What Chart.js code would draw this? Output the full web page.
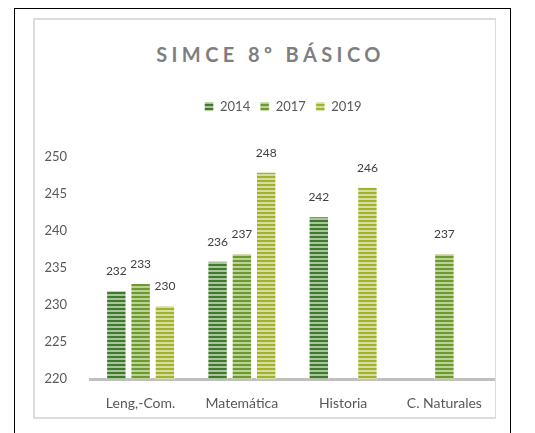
<!DOCTYPE html>
<html>
<head>
<meta charset="utf-8">
<script src="https://cdn.jsdelivr.net/npm/chart.js@4"></script>
<style>
  body { margin: 0; background: #fff; font-family: Lato, "Open Sans", sans-serif; }
  #outer { position: absolute; left: 14px; top: 8px; width: 497px; height: 440px; border: 1px solid #000; box-sizing: border-box; }
  #inner { position: absolute; left: 33px; top: 18px; width: 463px; height: 401px; border: 2px solid #dcdcdc; border-right-width: 1px; box-sizing: border-box; }
  #title { position: absolute; left: 39px; top: 42px; width: 463px; text-align: center; font-size: 20px; font-weight: bold; letter-spacing: 4.4px; color: #7f7f7f; }
  #wrap { position: absolute; left: 35px; top: 20px; width: 460px; height: 400px; }
</style>
</head>
<body>
<div id="outer"></div>
<div id="inner"></div>
<div id="title">SIMCE 8º BÁSICO</div>
<div id="wrap"><canvas id="chart"></canvas></div>
<script>
const categories = ["Leng,-Com.", "Matemática", "Historia", "C. Naturales"];
const years = ["2014", "2017", "2019"];
const values2014 = [232, 236, 242, null];
const values2017 = [233, 237, null, 237];
const values2019 = [230, 248, 246, null];
const yTicks = [220, 225, 230, 235, 240, 245, 250];

function stripes(dark, light) {
  const c = document.createElement("canvas");
  c.width = 4;
  c.height = 4;
  const g = c.getContext("2d");
  g.fillStyle = dark;
  g.fillRect(0, 0, 4, 2);
  g.fillStyle = light;
  g.fillRect(0, 2, 4, 2);
  return g.createPattern(c, "repeat");
}

const fills = [
  stripes("#3f7a2c", "#a9c59c"),
  stripes("#6c9a2e", "#bcd196"),
  stripes("#a3b22c", "#d6dda0"),
];

// extra room under the legend, and nudge it right like the original
const legendSpace = {
  id: "legendSpace",
  beforeInit(chart) {
    const fit = chart.legend.fit;
    chart.legend.fit = function () {
      fit.call(this);
      this.height += 34;
    };
  },
  afterLayout(chart) {
    chart.legend.left += 18;
    chart.legend.right += 18;
  },
};

const valueLabels = {
  id: "valueLabels",
  afterDatasetsDraw(chart) {
    const ctx = chart.ctx;
    ctx.save();
    ctx.font = "12px Lato, sans-serif";
    ctx.fillStyle = "#404040";
    ctx.textAlign = "center";
    ctx.textBaseline = "alphabetic";
    chart.data.datasets.forEach((ds, i) => {
      chart.getDatasetMeta(i).data.forEach((bar, j) => {
        if (ds.data[j] == null) return;
        ctx.fillText(ds.data[j], bar.x, bar.y - 15);
      });
    });
    ctx.restore();
  },
};

new Chart(document.getElementById("chart"), {
  type: "bar",
  data: {
    labels: categories,
    datasets: [values2014, values2017, values2019].map((d, i) => ({
      label: years[i],
      data: d,
      backgroundColor: fills[i],
      borderColor: "rgba(255,255,255,0.45)",
      borderWidth: 1,
      categoryPercentage: 0.72,
      barPercentage: 0.84,
    })),
  },
  options: {
    responsive: true,
    maintainAspectRatio: false,
    animation: false,
    layout: { padding: { top: 70, right: 0, left: 0, bottom: 0 } },
    scales: {
      x: {
        grid: { display: false },
        border: { color: "#bfbfbf", width: 3 },
        ticks: { color: "#595959", font: { family: "Lato", size: 14 }, padding: 8 },
      },
      y: {
        min: 220,
        max: 250,
        afterBuildTicks: (s) => { s.ticks = yTicks.map((v) => ({ value: v })); },
        afterFit: (s) => { s.width = 55; },
        grid: { display: false },
        border: { display: false },
        ticks: { color: "#595959", font: { family: "Lato", size: 13 }, padding: 15 },
      },
    },
    plugins: {
      legend: {
        position: "top",
        labels: {
          boxWidth: 9,
          boxHeight: 9,
          padding: 10,
          color: "#595959",
          font: { family: "Lato", size: 13 },
        },
      },
      tooltip: { enabled: false },
    },
  },
  plugins: [legendSpace, valueLabels],
});
</script>
</body>
</html>
